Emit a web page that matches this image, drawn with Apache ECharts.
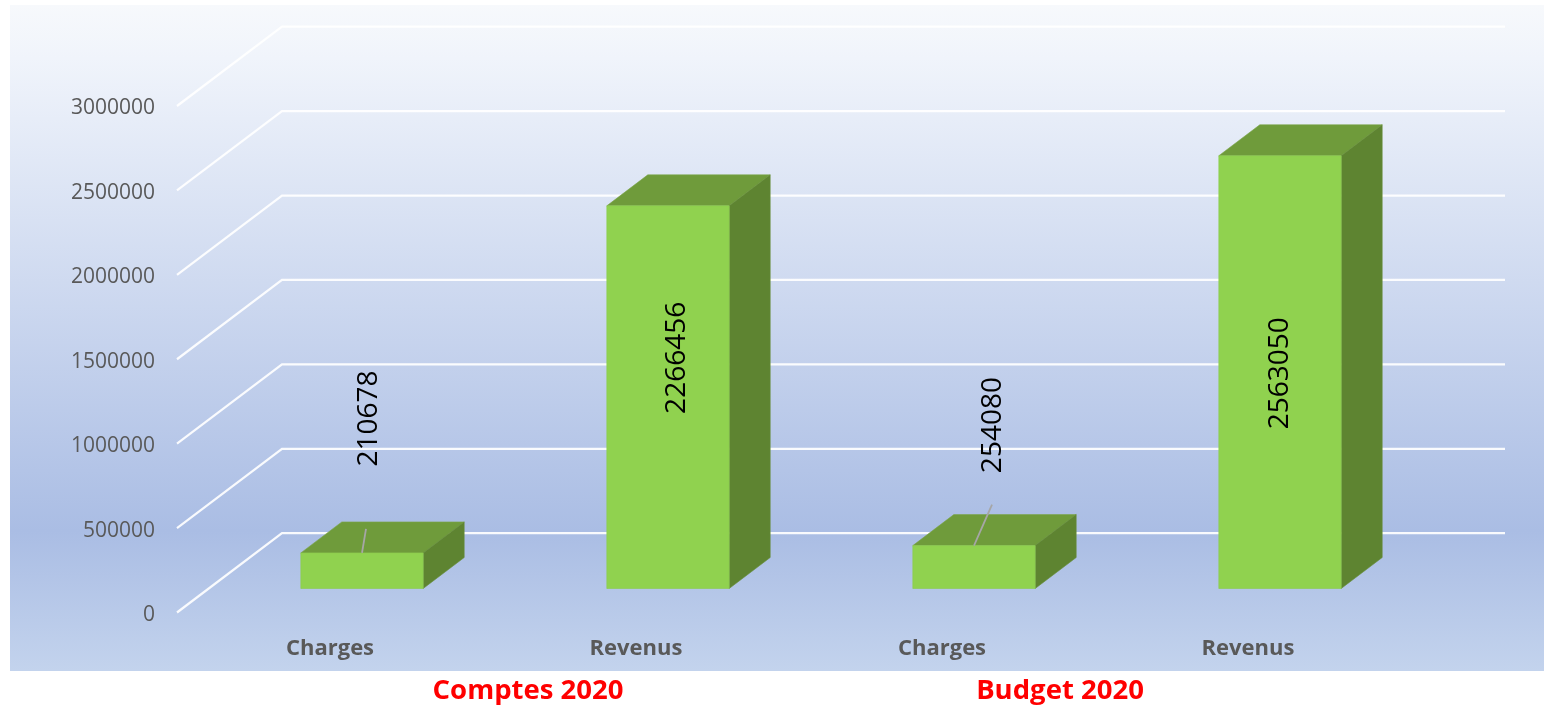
<!DOCTYPE html>
<html>
<head>
<meta charset="utf-8">
<style>html,body{margin:0;padding:0;background:#fff}#c{width:1544px;height:708px}</style>
<script src="https://cdn.jsdelivr.net/npm/echarts@6/dist/echarts.min.js"></script>
</head>
<body>
<div id="c"></div>
<script>
const categories = ['Charges', 'Revenus', 'Charges', 'Revenus'];
const values = [210678, 2266456, 254080, 2563050];
const yTicks = [0, 500000, 1000000, 1500000, 2000000, 2500000, 3000000];
const groupLabels = ['Comptes 2020', 'Budget 2020'];

// Layout constants of the fake 3D box (separate from the data)
const wallDepth = [105, -79.3];
const barShift = [32, -24];
const barDepth = [41, -31];
const labelNudge = [[7, -134.5], [9, 152], [19, -120.5], [0, 217.5]];
const leaderEnd = [[4, -24], null, [18, -41], null];
const groupLabelPos = [[528, 691], [1060, 691]];

const chart = echarts.init(document.getElementById('c'), null, {renderer: 'canvas'});

function renderGrid(params, api) {
  const v = api.value(0);
  const cs = params.coordSys;
  const y = api.coord([0, v])[1];
  const x0 = cs.x, x1 = cs.x + wallDepth[0], x2 = cs.x + cs.width + wallDepth[0] - 1;
  const y1 = y + wallDepth[1];
  return {
    type: 'polyline',
    shape: {points: [[x0, y], [x1, y1], [x2, y1]]},
    style: {stroke: '#ffffff', lineWidth: 2.2, fill: null, opacity: 0.92},
    silent: true
  };
}

function renderBar(params, api) {
  const i = api.value(0);
  const val = api.value(1);
  const top = api.coord([i, val]);
  const base = api.coord([i, 0]);
  const w = api.size([1, 0])[0] * 0.4;
  const l = top[0] - w / 2 + barShift[0], r = l + w;
  const t = top[1] + barShift[1], b = base[1] + barShift[1];
  const dx = barDepth[0], dy = barDepth[1];
  const children = [
    {type: 'polygon', shape: {points: [[l, t], [r, t], [r + dx, t + dy], [l + dx, t + dy]]},
     style: {fill: '#6f9b3b', stroke: '#7aa548', lineWidth: 0.6}},
    {type: 'polygon', shape: {points: [[r, t], [r + dx, t + dy], [r + dx, b + dy], [r, b]]},
     style: {fill: '#5e8431', stroke: '#668d38', lineWidth: 0.6}},
    {type: 'rect', shape: {x: l, y: t, width: w, height: b - t},
     style: {fill: '#90d24f', stroke: '#8ccb4c', lineWidth: 0.6}}
  ];
  const cx = l + w / 2;
  if (leaderEnd[i]) {
    children.push({type: 'line', shape: {x1: cx, y1: t, x2: cx + leaderEnd[i][0], y2: t + leaderEnd[i][1]},
      style: {stroke: '#a6a6a6', lineWidth: 1.8}});
  }
  children.push({type: 'text', x: cx + labelNudge[i][0], y: t + labelNudge[i][1], rotation: Math.PI / 2,
    style: {text: String(val), fill: '#000', font: '28px "Open Sans"', align: 'center', verticalAlign: 'middle'}});
  return {type: 'group', children};
}

chart.setOption({
  animation: false,
  graphic: [
    {type: 'rect', z: -10, shape: {x: 10, y: 5, width: 1534, height: 666},
     style: {fill: new echarts.graphic.LinearGradient(0, 0, 0, 1, [
       {offset: 0, color: '#f7f9fc'},
       {offset: 0.08, color: '#f0f4fb'},
       {offset: 0.79, color: '#aabde4'},
       {offset: 1, color: '#c3d3ed'}
     ])}}
  ].concat(groupLabels.map((t, i) => ({
    type: 'text', x: groupLabelPos[i][0], y: groupLabelPos[i][1], z: 10,
    style: {text: t, fill: '#ff0000', font: 'bold 27.5px "Open Sans"', align: 'center', verticalAlign: 'middle'}
  }))),
  grid: {left: 177, top: 106, width: 1224, height: 506.5, containLabel: false},
  xAxis: {
    type: 'category', data: categories,
    axisLine: {show: false}, axisTick: {show: false},
    axisLabel: {color: '#595959', fontFamily: 'Open Sans', fontWeight: 'bold', fontSize: 22, margin: 25.5, interval: 0}
  },
  yAxis: {
    type: 'value', min: 0, max: 3000000, interval: 500000,
    axisLine: {show: false}, axisTick: {show: false}, splitLine: {show: false},
    axisLabel: {color: '#595959', fontFamily: 'Open Sans', fontSize: 21, margin: 22, verticalAlign: 'top', lineHeight: 5,
      formatter: v => String(v)}
  },
  series: [
    {type: 'custom', coordinateSystem: 'cartesian2d', data: yTicks.map(v => [v]), encode: {y: 0}, renderItem: renderGrid, silent: true, z: 1, clip: false},
    {type: 'custom', coordinateSystem: 'cartesian2d', data: values.map((v, i) => [i, v]), encode: {x: 0, y: 1}, renderItem: renderBar, silent: true, z: 2, clip: false}
  ]
});
</script>
</body>
</html>
